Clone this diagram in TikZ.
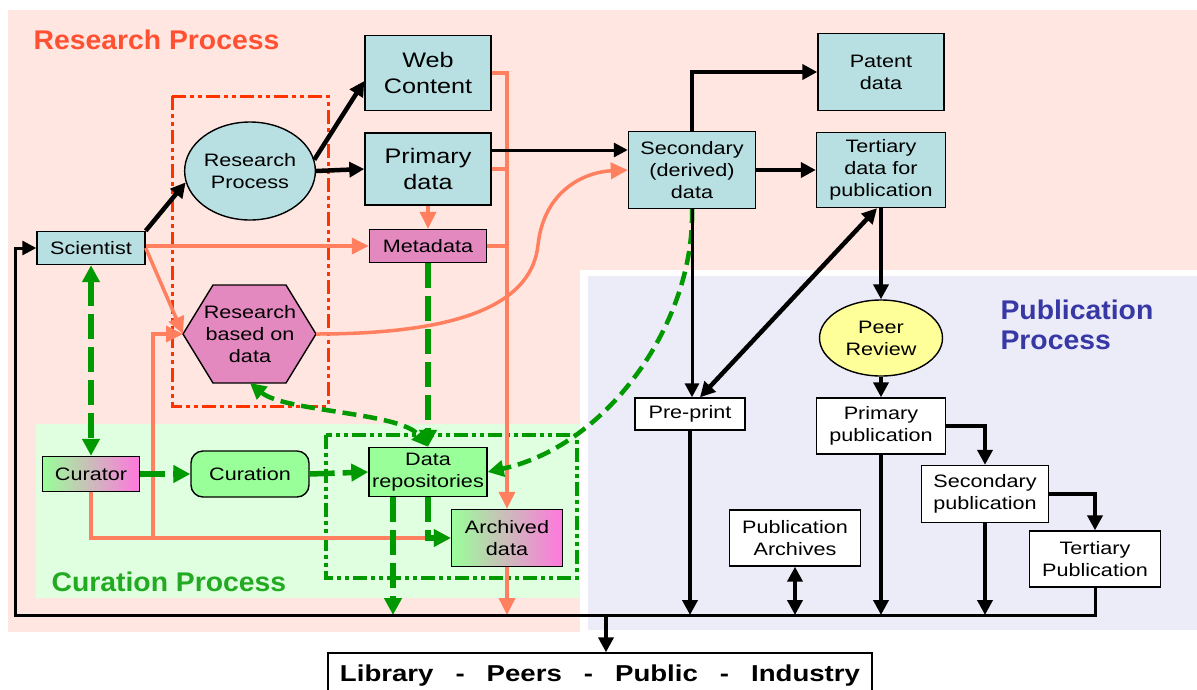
\documentclass[tikz,border=0pt]{standalone}
\usepackage{fontspec}
\setmainfont{Liberation Sans}[FakeStretch=1.2]
\newfontfamily\titlefont{Liberation Sans}[FakeStretch=1.05]
\usetikzlibrary{arrows.meta,shapes.geometric}
\definecolor{resbg}{RGB}{255,230,225}
\definecolor{curbg}{RGB}{224,255,224}
\definecolor{pubbg}{RGB}{236,236,248}
\definecolor{boxblue}{RGB}{184,224,226}
\definecolor{metapink}{RGB}{228,136,192}
\definecolor{curgreen}{RGB}{153,255,153}
\definecolor{curpink}{RGB}{255,119,221}
\definecolor{peeryellow}{RGB}{255,255,153}
\definecolor{coralc}{RGB}{255,127,95}
\definecolor{boxred}{RGB}{255,51,0}
\definecolor{lnkgreen}{RGB}{0,153,0}
\definecolor{ttlred}{RGB}{255,80,50}
\definecolor{ttlgreen}{RGB}{34,170,34}
\definecolor{ttlblue}{RGB}{55,55,165}

\begin{document}
\begin{tikzpicture}[x=1pt,y=-1pt,font=\fontsize{18}{22}\selectfont,
        box/.style={draw,line width=1.4pt,align=center,inner sep=0pt},
        sz/.style 2 args={minimum width=#1pt,minimum height=#2pt},
        big/.style={font=\fontsize{21}{26}\selectfont},
        ttl/.style={font=\titlefont\bfseries\fontsize{27}{30}\selectfont,anchor=west,align=left},
        blk/.style={line width=4.5pt,>={Triangle[length=15pt,width=15pt]}},
        blkthin/.style={line width=3pt,>={Triangle[length=14pt,width=14pt]}},
        coral/.style={draw=coralc,line width=3.5pt,>={Triangle[length=17pt,width=16pt]}},
        gdash/.style={draw=lnkgreen,line width=5.5pt,dash pattern=on 25pt off 8pt,>={Triangle[length=17pt,width=17pt]}},
        gshort/.style={draw=lnkgreen,line width=4.5pt,dash pattern=on 14pt off 7pt,>={Triangle[length=16pt,width=16pt]}},
        ddot/.style={line width=#1,dash pattern=on 14pt off 4pt on 4pt off 4pt on 4pt off 4pt}]
        \useasboundingbox (0,0) rectangle (1197,689);
        \clip (0,0) rectangle (1197,689);
        % backgrounds
        \fill[resbg] (8,10) rectangle (1197,632);
        \fill[white] (580,270) rectangle (1197,640);
        \fill[pubbg] (588,276) rectangle (1197,630);
        \fill[curbg] (36,424) rectangle (580,598);
        \draw[boxred,ddot=3pt] (172,96) rectangle (328,406);
        \draw[lnkgreen,ddot=4pt] (326,435) rectangle (577,578);
        \node[ttl,text=ttlred] (ttlres) at (30,40) {Research Process};
        \node[ttl,text=ttlgreen] (ttlcur) at (48,582) {Curation Process};
        \node[ttl,text=ttlblue] (ttlpub) at (997,325) {Publication\\Process};
        % research side
        \node[box,big,fill=boxblue,sz={126}{75}] (web) at (428,73) {Web\\Content};
        \node[box,big,fill=boxblue,sz={126}{72}] (prim) at (428,169) {Primary\\data};
        \node[ellipse,draw,line width=1.4pt,fill=boxblue,minimum width=114pt,minimum height=98pt,inner sep=0pt,align=center] (rp) at (250,171) {Research\\Process};
        \node[box,fill=boxblue,sz={108}{33}] (sci) at (91,248) {Scientist};
        \node[box,fill=metapink,sz={117}{33}] (meta) at (428,246) {Metadata};
        \draw[line width=1.4pt,fill=metapink] (183,334) -- (213,285) -- (286,285) -- (316,334) -- (286,383) -- (213,383) -- cycle;
        \node[align=center] (rbd) at (250,334) {Research\\based on\\data};
        \coordinate (rbdL) at (183,334);
        \coordinate (rbdR) at (316,334);
        \coordinate (rbdB) at (250,383);
        % curation side
        \node[box,left color=curgreen,right color=curpink,sz={97}{35}] (cur) at (91,474) {Curator};
        \node[box,fill=curgreen,rounded corners=12pt,sz={118}{46}] (curation) at (250,474) {Curation};
        \node[box,fill=curgreen,sz={118}{49}] (drep) at (428,472) {Data\\repositories};
        \node[box,left color=curgreen,right color=curpink,sz={111}{57}] (arch) at (507,538) {Archived\\data};
        % derived data
        \node[box,fill=boxblue,sz={127}{77}] (sec) at (692,170) {Secondary\\(derived)\\data};
        \node[box,fill=boxblue,sz={126}{77}] (pat) at (881,72) {Patent\\data};
        \node[box,fill=boxblue,sz={129}{75}] (ter) at (881,170) {Tertiary\\data for\\publication};
        % publication side
        \node[ellipse,draw,line width=1.4pt,fill=peeryellow,minimum width=123pt,minimum height=76pt,inner sep=0pt,align=center] (peer) at (881,338) {Peer\\Review};
        \node[box,fill=white,sz={110}{32}] (pre) at (690,414) {Pre-print};
        \node[box,fill=white,sz={129}{56}] (ppub) at (881,426) {Primary\\publication};
        \node[box,fill=white,sz={127}{57}] (spub) at (985,494) {Secondary\\publication};
        \node[box,fill=white,sz={131}{56}] (parch) at (795,538) {Publication\\Archives};
        \node[box,fill=white,sz={131}{56}] (tpub) at (1095,559) {Tertiary\\Publication};
        \node[box,fill=white,sz={544}{46},font=\bfseries\fontsize{23}{26}\selectfont] (lib) at (600,676) {Library\hspace{22pt}-\hspace{22pt}Peers\hspace{22pt}-\hspace{22pt}Public\hspace{22pt}-\hspace{22pt}Industry};
        \coordinate (bus) at (15,615);
        \coordinate (tap) at (606,615);
        \coordinate (fork) at (153,538);
        % coral links
        \draw[coral,->] (web.east) -| (arch.north);
        \draw[coral] (prim.east) -- (prim.east -| arch.north);
        \draw[coral] (meta.east) -- (meta.east -| arch.north);
        \draw[coral,->] (prim.south) -- (meta.north);
        \draw[coral,->] (sci.east |- meta.west) -- (meta.west);
        \draw[coral,->] (sci.east) -- (rbdL);
        \draw[coral,->] (cur.south) |- (arch.west);
        \draw[coral,->] (fork) |- (rbdL);
        \draw[coral,->] (rbdR) .. controls (470,334) and (532,300) .. (538,245) .. controls (544,190) and (585,172) .. (sec.west);
        \draw[coral,->] (arch.south) -- (arch.south |- bus);
        % green links
        \draw[gdash,<->] (sci.south) -- (cur.north);
        \draw[gdash,->] (cur.east) -- (curation.west);
        \draw[gdash,->] (curation.east) -- (drep.west);
        \draw[gdash,->] (meta.south) -- (drep.north);
        \draw[gshort,<->] (rbdB) .. controls (285,412) and (400,412) .. (drep.north);
        \draw[gshort,->] (sec.south) .. controls (695,320) and (610,445) .. (drep.east);
        \draw[gdash,->] ([xshift=-35pt]drep.south) -- ([xshift=-35pt]drep.south |- bus);
        \draw[gdash,->] (drep.south) |- (arch.west);
        % black links
        \draw[blk,->] (sci.north east) -- (rp.190);
        \draw[blk,->] (rp.10) -- ([yshift=-8pt]web.west);
        \draw[blk,->] (rp.east) -- (prim.west);
        \draw[blkthin,->] ([yshift=19pt]prim.east) -- ([yshift=19pt]prim.east -| sec.west);
        \draw[blk,->] (sec.north) |- (pat.west);
        \draw[blk,->] (sec.east) -- (ter.west);
        \draw[blk,->] (ter.south) -- (peer.north);
        \draw[blk,<->] ([xshift=-4pt]ter.south) -- ([xshift=10pt]pre.north);
        \draw[blkthin,->] (sec.south) -- (sec.south |- pre.north);
        \draw[blk,->] (peer.south) -- (ppub.north);
        \draw[blk,->] (ppub.east) -| (spub.north);
        \draw[blk,->] (spub.east) -| (tpub.north);
        \draw[blk,->] (pre.south) -- (pre.south |- bus);
        \draw[blk,<->] (parch.south) -- (parch.south |- bus);
        \draw[blk,->] (ppub.south) -- (ppub.south |- bus);
        \draw[blk,->] (spub.south) -- (spub.south |- bus);
        \draw[blkthin,->] (tpub.south) |- (bus) |- (sci.west);
        \draw[blk,->] (tap) -- (tap |- lib.north);
\end{tikzpicture}
\end{document}
